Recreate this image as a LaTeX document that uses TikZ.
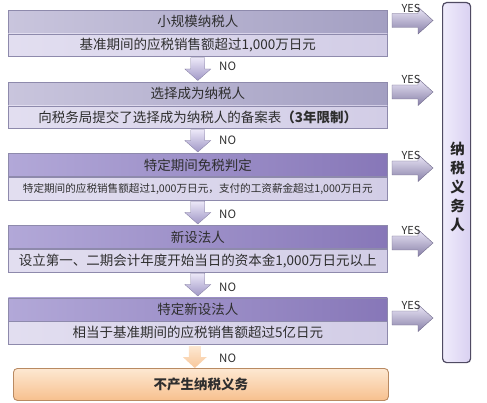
\documentclass[tikz,border=0pt]{standalone}
\usepackage{fontspec}
\setmainfont{Noto Sans CJK SC}
\usetikzlibrary{calc}
\definecolor{tA}{HTML}{C9C5DD}
\definecolor{tB}{HTML}{A39FC2}
\definecolor{tC}{HTML}{B2A8D8}
\definecolor{tD}{HTML}{8777B8}
\definecolor{sA}{HTML}{E2DEF0}
\definecolor{sB}{HTML}{D2CDE6}
\definecolor{bord}{HTML}{8E8AAC}
\definecolor{arA}{HTML}{ECE8F8}
\definecolor{arB}{HTML}{A097C6}
\definecolor{pA}{HTML}{F0ECFC}
\definecolor{pB}{HTML}{D9D1F1}
\definecolor{orA}{HTML}{FDE8D2}
\definecolor{orB}{HTML}{F7C08E}
\definecolor{orD}{HTML}{B98A62}
\definecolor{txt}{HTML}{2E2E2E}
\begin{document}
\begin{tikzpicture}[x=1pt,y=-1pt,
  every node/.style={inner sep=0pt, text=txt},
  titlebar/.style={draw=bord, line width=0.6pt, minimum width=379pt, minimum height=23pt,
    anchor=north west, font=\fontsize{13.5}{13.5}\selectfont},
  lightbar/.style={titlebar, left color=tA, right color=tB},
  darkbar/.style={titlebar, left color=tC, right color=tD},
  subbar/.style={draw=bord, line width=0.6pt, minimum width=379pt, minimum height=22.5pt,
    anchor=north, left color=sA, right color=sB, font=\fontsize{13.5}{13.5}\selectfont},
  nolabel/.style={anchor=west, font=\fontsize{11.5}{11.5}\selectfont},
  yeslabel/.style={font=\fontsize{11}{11}\selectfont},
  downarr/.style={top color=arA, bottom color=arB, draw=arB!80!black, line width=0.3pt},
  orarr/.style={top color=orA, bottom color=orB!90!white, draw=none},
  yesarr/.style={top color=arA, bottom color=arB!85!black, draw=arB!70!black, line width=0.4pt}
]
\useasboundingbox (0,0) rectangle (487,403);

% blocks
\node[lightbar] (t1) at (8,10) {小规模纳税人};
\node[subbar] (s1) at (t1.south) {基准期间的应税销售额超过1,000万日元};
\node[lightbar] (t2) at (8,82) {选择成为纳税人};
\node[subbar] (s2) at (t2.south) {向税务局提交了选择成为纳税人的备案表\textbf{（3年限制）}};
\node[darkbar] (t3) at (8,153.5) {特定期间免税判定};
\node[subbar, font=\fontsize{10.6}{10.6}\selectfont] (s3) at (t3.south) {特定期间的应税销售额超过1,000万日元，支付的工资薪金超过1,000万日元};
\node[darkbar] (t4) at (8,225.5) {新设法人};
\node[subbar] (s4) at (t4.south) {设立第一、二期会计年度开始当日的资本金1,000万日元以上};
\node[darkbar] (t5) at (8,297.5) {特定新设法人};
\node[subbar] (s5) at (t5.south) {相当于基准期间的应税销售额超过5亿日元};

% final box
\node[anchor=north west, minimum width=375pt, minimum height=32pt, rounded corners=4pt,
  top color=orA, bottom color=orB, draw=orD, line width=0.9pt,
  font=\bfseries\fontsize{13.5}{13.5}\selectfont] (fin) at (13,368) {不产生纳税义务};

% payer box
\node[anchor=north west, minimum width=28pt, minimum height=360pt, rounded corners=4pt,
  left color=pA, right color=pB, draw=black!50!arB, line width=1.2pt] (pay) at (442,2) {};
\node[align=center, font=\bfseries\fontsize{14.5}{19}\selectfont, text=black!85] (paytxt) at ($(pay.center)+(1,4)$) {纳\\税\\义\\务\\人};

% down arrows between blocks
\foreach \a/\b in {s1/t2, s2/t3, s3/t4, s4/t5} {
  \path[downarr] let \p1=(\a.south), \p2=(\b.north) in
    (\x1-7pt,\y1-1pt) -- (\x1+7pt,\y1-1pt) -- (\x1+7pt,\y2+13pt) -- (\x1+13pt,\y2+13pt) --
    (\x1,\y2+1.5pt) -- (\x1-13pt,\y2+13pt) -- (\x1-7pt,\y2+13pt) -- cycle;
}
% orange arrow
\path[orarr] let \p1=(s5.south), \p2=(fin.north) in
    (\x1-9pt,\y1-2pt) -- (\x1+3pt,\y1-2pt) -- (\x1+3pt,\y2+11pt) -- (\x1+9pt,\y2+11pt) --
    (\x1-3pt,\y2) -- (\x1-15pt,\y2+11pt) -- (\x1-9pt,\y2+11pt) -- cycle;

% NO labels
\node[nolabel] (no1) at (219,66) {NO};
\node[nolabel] (no2) at (219,140) {NO};
\node[nolabel] (no3) at (219,214) {NO};
\node[nolabel] (no4) at (219,287) {NO};
\node[nolabel] (no5) at (219,358) {NO};

% YES arrows
\foreach \i/\c in {1/20.5, 2/92, 3/168, 4/243, 5/318} {
  \coordinate (ya\i) at ($(pay.west|-0,\c)+(-9,0)$);
  \path[yesarr] let \p1=(ya\i) in
    (\x1-41pt,\y1+7pt) -- (\x1-15pt,\y1+7pt) -- (\x1-15pt,\y1+13.5pt) -- (\x1,\y1) --
    (\x1-15pt,\y1-13.5pt) -- (\x1-15pt,\y1-7pt) -- (\x1-41pt,\y1-7pt) -- cycle;
  \node[yeslabel] (yes\i) at ($(ya\i)+(-22,-12.5)$) {YES};
}
\end{tikzpicture}
\end{document}
